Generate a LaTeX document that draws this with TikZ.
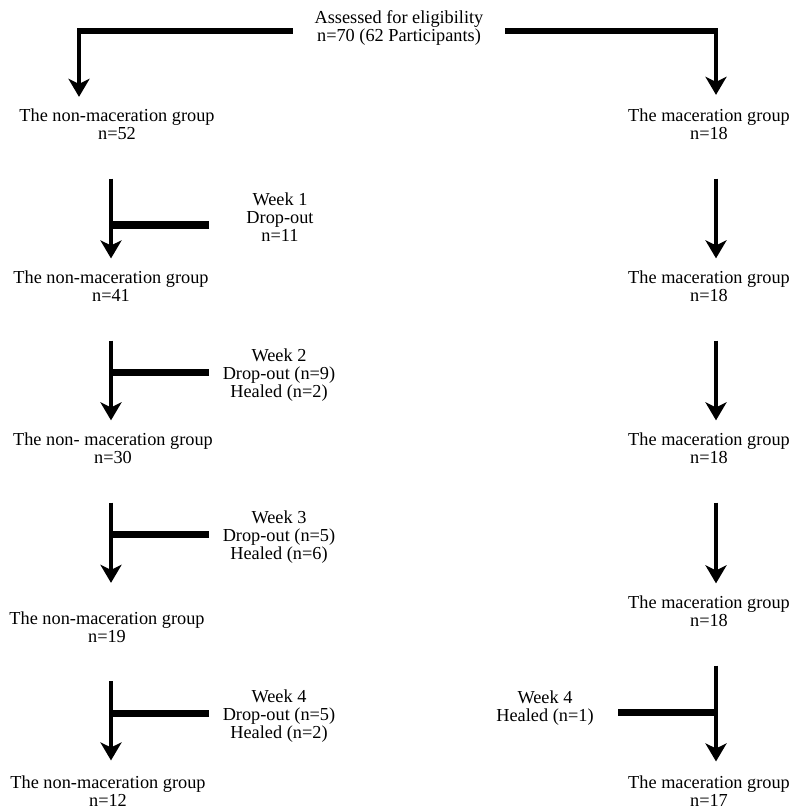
\documentclass[tikz,border=0pt]{standalone}
\usepackage{fontspec}
\setmainfont{Liberation Serif}
\usetikzlibrary{arrows.meta}

\begin{document}
\begin{tikzpicture}[x=1pt,y=-1pt]

    \tikzset{
      txt/.style = {align=center, inner sep=0pt, font=\fontsize{18.3}{18}\selectfont},
      bar/.style = {line width=5.5pt},
      dropbar/.style = {line width=7pt},
      flow/.style = {line width=4pt, -{Stealth[length=18pt,width=21pt,inset=5pt]}}
    }
    \useasboundingbox (0,0) rectangle (793,810);

    \node[txt, outer xsep=22pt] (assess) at (399,28.5) {Assessed for eligibility\\n=70 (62 Participants)};

    \node[txt] (nm1) at (117,124.5) {The non-maceration group\\n=52};
    \node[txt] (nm2) at (111,286.5) {The non-maceration group\\n=41};
    \node[txt] (nm3) at (113,448.5) {The non- maceration group\\n=30};
    \node[txt] (nm4) at (107,627) {The non-maceration group\\n=19};
    \node[txt] (nm5) at (108,791.5) {The non-maceration group\\n=12};

    \node[txt] (m1) at (709,124.5) {The maceration group\\n=18};
    \node[txt] (m2) at (709,286.5) {The maceration group\\n=18};
    \node[txt] (m3) at (709,448.5) {The maceration group\\n=18};
    \node[txt] (m4) at (709,611.5) {The maceration group\\n=18};
    \node[txt] (m5) at (709,791.5) {The maceration group\\n=17};

    \node[txt] (wk1) at (280,217) {Week 1\\Drop-out\\n=11};
    \node[txt] (wk2) at (279,375) {Week 2\\Drop-out (n=9)\\Healed (n=2)};
    \node[txt] (wk3) at (279,537) {Week 3\\Drop-out (n=5)\\Healed (n=6)};
    \node[txt] (wk4) at (279,716) {Week 4\\Drop-out (n=5)\\Healed (n=2)};
    \node[txt] (mwk4) at (545,708) {Week 4\\Healed (n=1)};

    \coordinate (tl) at (79,31);
    \coordinate (tr) at (716,31);
    \coordinate (colL) at (111,0);
    \coordinate (colR) at (716,0);
    \coordinate (d1) at (209,225);
    \coordinate (d2) at (209,372);
    \coordinate (d3) at (209,534);
    \coordinate (d4) at (209,713);
    \coordinate (h4) at (618,712);

    % split of the assessed cases
    \draw[bar] (assess.west |- tl) -- (tl);
    \draw[bar] (assess.east |- tr) -- (tr);
    \draw[flow, shorten <=-2.75pt, shorten >=12pt] (tl) -- (tl |- nm1.north);
    \draw[flow, shorten <=-2.75pt, shorten >=14pt] (tr) -- (tr |- m1.north);

    % week by week
    \foreach \a/\b/\c/\s in {nm1/nm2/colL/12.5, nm2/nm3/colL/12.5, nm3/nm4/colL/28.5, nm4/nm5/colL/15.5,
                             m1/m2/colR/12.5, m2/m3/colR/12.5, m3/m4/colR/12.5, m4/m5/colR/14.5}
      \draw[flow, shorten <=38.5pt, shorten >=\s pt] (\a.south -| \c) -- (\b.north -| \c);

    \foreach \d in {d1,d2,d3,d4}
      \draw[dropbar] (\d) -- (\d -| colL);
    \draw[dropbar] (h4) -- (h4 -| colR);

\end{tikzpicture}
\end{document}
